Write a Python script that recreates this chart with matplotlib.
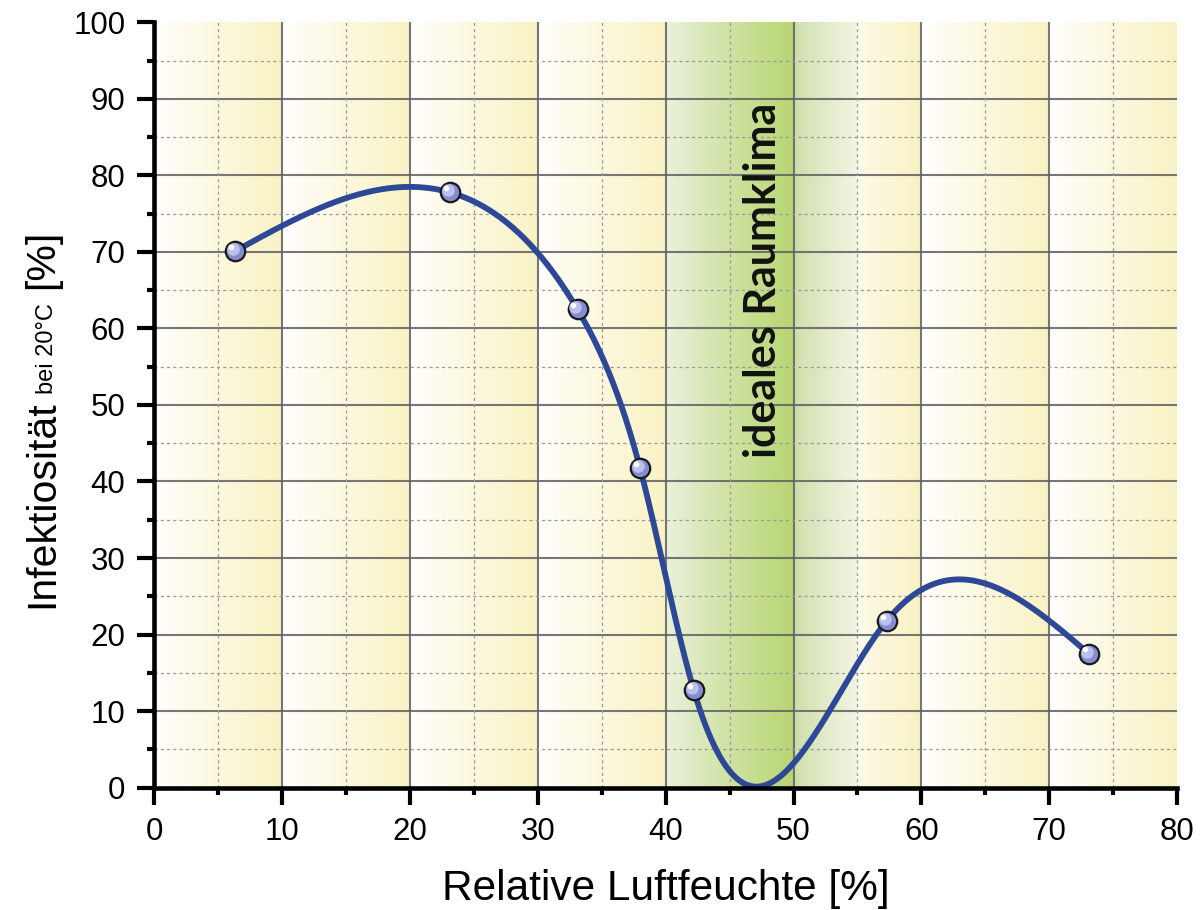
import numpy as np
import matplotlib
matplotlib.use('Agg')
import matplotlib.pyplot as plt
from matplotlib.transforms import ScaledTranslation

plt.rcParams['font.family'] = ['Liberation Sans', 'DejaVu Sans']

# Messpunkte
humidity = [6.3, 23.1, 33.1, 38.0, 42.2, 57.3, 73.1]
infectivity = [70.1, 77.8, 62.5, 41.7, 12.7, 21.8, 17.5]

x_ticks = [0, 10, 20, 30, 40, 50, 60, 70, 80]
y_ticks = [0, 10, 20, 30, 40, 50, 60, 70, 80, 90, 100]

# Hintergrund-Streifen: von, bis, Farbe links, Farbe rechts
white = (1.0, 1.0, 1.0)
yellow = (0.978, 0.950, 0.77)
bands = [
    (0, 10, white, yellow),
    (10, 20, white, yellow),
    (20, 30, white, yellow),
    (30, 40, white, yellow),
    (40, 50, (0.93, 0.95, 0.88), (0.72, 0.84, 0.45)),
    (50, 55, (0.80, 0.87, 0.66), (0.95, 0.96, 0.89)),
    (55, 60, (0.99, 0.98, 0.92), yellow),
    (60, 70, white, yellow),
    (70, 80, white, yellow),
]


def natural_spline(x, y, xs):
    x = np.asarray(x, float)
    y = np.asarray(y, float)
    n = len(x)
    h = np.diff(x)
    A = np.zeros((n, n))
    r = np.zeros(n)
    A[0, 0] = 1
    A[-1, -1] = 1
    for i in range(1, n - 1):
        A[i, i - 1] = h[i - 1]
        A[i, i] = 2 * (h[i - 1] + h[i])
        A[i, i + 1] = h[i]
        r[i] = 3 * ((y[i + 1] - y[i]) / h[i] - (y[i] - y[i - 1]) / h[i - 1])
    c = np.linalg.solve(A, r)
    b = (y[1:] - y[:-1]) / h - h * (2 * c[:-1] + c[1:]) / 3
    d = (c[1:] - c[:-1]) / (3 * h)
    idx = np.clip(np.searchsorted(x, xs) - 1, 0, n - 2)
    dx = xs - x[idx]
    return y[idx] + b[idx] * dx + c[idx] * dx ** 2 + d[idx] * dx ** 3


fig = plt.figure(figsize=(12.01, 9.10), dpi=100)
ax = fig.add_axes([0.1286, 0.1346, 0.8514, 0.8407])

# Hintergrund als Farbverlauf
xs_bg = np.linspace(0, 80, 1600)
img = np.ones((1, len(xs_bg), 3))
for x0, x1, c0, c1 in bands:
    m = (xs_bg >= x0) & (xs_bg <= x1)
    t = ((xs_bg[m] - x0) / (x1 - x0)) ** 0.85
    img[0, m] = np.array(c0) + t[:, None] * (np.array(c1) - np.array(c0))
ax.imshow(img, extent=[0, 80, 0, 100], aspect='auto', zorder=0,
          interpolation='bilinear')

# Gitter
for v in x_ticks[1:-1]:
    ax.axvline(v, color='#606060', lw=1.5, alpha=0.85, zorder=1)
for v in y_ticks[1:-1]:
    ax.axhline(v, color='#606060', lw=1.5, alpha=0.85, zorder=1)
for v in np.arange(5, 80, 10):
    ax.axvline(v, color='#9a9a9a', lw=0.9, ls=(0, (2.5, 2.5)), zorder=1)
for v in np.arange(5, 100, 10):
    ax.axhline(v, color='#9a9a9a', lw=0.9, ls=(0, (2.5, 2.5)), zorder=1)

# Kurve
xs = np.linspace(humidity[0], humidity[-1], 600)
ax.plot(xs, natural_spline(humidity, infectivity, xs), color='#2c4896',
        lw=4.2, zorder=3, solid_capstyle='round')

# Kugel-Marker
ax.plot(humidity, infectivity, 'o', ms=14, mfc='#868cd2', mec='#1a1a1a',
        mew=1.6, zorder=4)
off1 = ax.transData + ScaledTranslation(-1.5 / 72, 1.5 / 72, fig.dpi_scale_trans)
off2 = ax.transData + ScaledTranslation(-3 / 72, 3 / 72, fig.dpi_scale_trans)
ax.plot(humidity, infectivity, 'o', ms=9, mfc='#bcc0ec', mec='none',
        zorder=5, transform=off1)
ax.plot(humidity, infectivity, 'o', ms=4, mfc='white', mec='none',
        zorder=6, transform=off2)

ax.text(47.6, 66.3, 'ideales Raumklima', rotation=90, ha='center',
        va='center', fontsize=31, fontweight='bold', family='Lato',
        color='#111111', zorder=6)

ax.set_xlim(0, 80)
ax.set_ylim(0, 100)
ax.set_xticks(x_ticks)
ax.set_yticks(y_ticks)
ax.set_xticks(np.arange(5, 80, 10), minor=True)
ax.set_yticks(np.arange(5, 100, 10), minor=True)
ax.tick_params(which='major', length=12, width=3, labelsize=22.5, pad=9,
               direction='out', color='black')
ax.tick_params(which='minor', length=5, width=3, direction='out')

for s in ['top', 'right']:
    ax.spines[s].set_visible(False)
for s in ['left', 'bottom']:
    ax.spines[s].set_linewidth(3.3)
    ax.spines[s].set_zorder(7)

ax.set_xlabel('Relative Luftfeuchte [%]', fontsize=30.5)
ax.xaxis.label.set_verticalalignment('baseline')
ax.xaxis.set_label_coords(0.5, (10 - 122.5) / 765)

# y-Beschriftung aus drei Teilen (Pixelpositionen, gemeinsame Grundlinie)
W, H = 1201, 910
fig.text(53 / W, 1 - 608 / H, 'Infektiosität', rotation=90,
         rotation_mode='anchor', ha='left', va='baseline', fontsize=29.5)
fig.text(53 / W, 1 - 394 / H, 'bei 20°C', rotation=90,
         rotation_mode='anchor', ha='left', va='baseline', fontsize=17)
fig.text(53 / W, 1 - 259 / H, '[%]', rotation=90,
         rotation_mode='anchor', ha='center', va='baseline', fontsize=29.5)

fig.savefig('out.png', dpi=100)
